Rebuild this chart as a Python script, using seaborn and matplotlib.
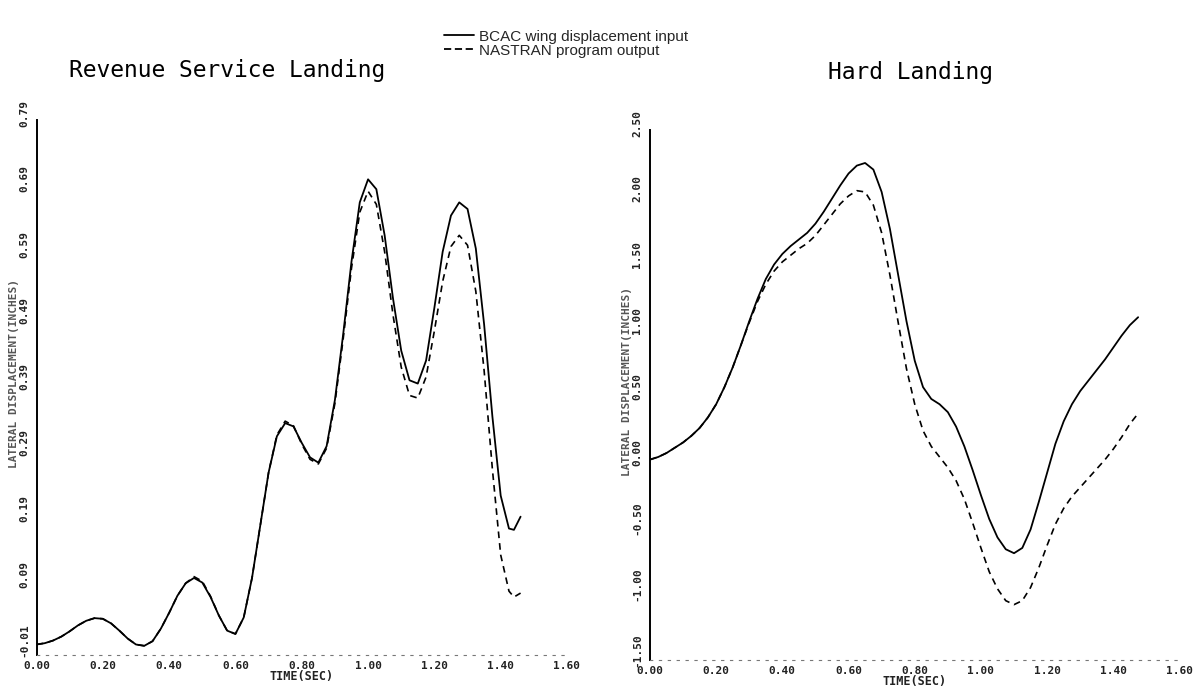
import numpy as np
import pandas as pd
import matplotlib
matplotlib.use("Agg")
import matplotlib.pyplot as plt
from matplotlib.lines import Line2D
import seaborn as sns

# ---- Revenue service landing: lateral wing displacement (inches) ----
rev_time = [0.000, 0.025, 0.050, 0.075, 0.100, 0.125, 0.150, 0.175, 0.200, 0.225,
            0.250, 0.275, 0.300, 0.325, 0.350, 0.375, 0.400, 0.425, 0.450, 0.475,
            0.500, 0.525, 0.550, 0.575, 0.600, 0.625, 0.650, 0.675, 0.700, 0.725,
            0.750, 0.775, 0.800, 0.825, 0.850, 0.875, 0.900, 0.925, 0.950, 0.975,
            1.000, 1.025, 1.050, 1.075, 1.100, 1.125, 1.150, 1.175, 1.200, 1.225,
            1.250, 1.275, 1.300, 1.325, 1.350, 1.375, 1.400, 1.425, 1.440, 1.460]
rev_bcac = [-0.006, -0.004, 0.000, 0.006, 0.014, 0.023, 0.030, 0.034, 0.033, 0.026,
            0.015, 0.003, -0.006, -0.008, -0.001, 0.018, 0.042, 0.068, 0.087, 0.095,
            0.088, 0.066, 0.038, 0.015, 0.010, 0.035, 0.095, 0.175, 0.255, 0.310,
            0.330, 0.325, 0.300, 0.278, 0.270, 0.295, 0.365, 0.465, 0.575, 0.665,
            0.700, 0.685, 0.615, 0.520, 0.440, 0.395, 0.390, 0.425, 0.505, 0.590,
            0.645, 0.665, 0.655, 0.595, 0.480, 0.340, 0.220, 0.170, 0.168, 0.188]
rev_nastran = [-0.006, -0.004, 0.000, 0.006, 0.014, 0.023, 0.030, 0.034, 0.033, 0.026,
               0.015, 0.003, -0.006, -0.008, -0.001, 0.018, 0.042, 0.068, 0.087, 0.097,
               0.090, 0.067, 0.038, 0.015, 0.010, 0.035, 0.095, 0.175, 0.255, 0.312,
               0.333, 0.326, 0.298, 0.275, 0.268, 0.292, 0.360, 0.458, 0.565, 0.650,
               0.682, 0.662, 0.590, 0.495, 0.415, 0.372, 0.368, 0.400, 0.470, 0.545,
               0.598, 0.615, 0.600, 0.530, 0.410, 0.260, 0.130, 0.075, 0.066, 0.072]

# ---- Hard landing ----
hard_time = [0.000, 0.025, 0.050, 0.075, 0.100, 0.125, 0.150, 0.175, 0.200, 0.225,
             0.250, 0.275, 0.300, 0.325, 0.350, 0.375, 0.400, 0.425, 0.450, 0.475,
             0.500, 0.525, 0.550, 0.575, 0.600, 0.625, 0.650, 0.675, 0.700, 0.725,
             0.750, 0.775, 0.800, 0.825, 0.850, 0.875, 0.900, 0.925, 0.950, 0.975,
             1.000, 1.025, 1.050, 1.075, 1.100, 1.125, 1.150, 1.175, 1.200, 1.225,
             1.250, 1.275, 1.300, 1.325, 1.350, 1.375, 1.400, 1.425, 1.450, 1.475]
hard_bcac = [0.00, 0.02, 0.05, 0.09, 0.13, 0.18, 0.24, 0.32, 0.42, 0.55,
             0.70, 0.87, 1.05, 1.22, 1.37, 1.48, 1.56, 1.62, 1.67, 1.72,
             1.79, 1.88, 1.98, 2.08, 2.17, 2.23, 2.25, 2.20, 2.03, 1.75,
             1.40, 1.05, 0.75, 0.55, 0.46, 0.42, 0.36, 0.25, 0.10, -0.08,
             -0.27, -0.45, -0.59, -0.68, -0.71, -0.67, -0.53, -0.32, -0.10, 0.12,
             0.29, 0.42, 0.52, 0.60, 0.68, 0.76, 0.85, 0.94, 1.02, 1.08]
hard_nastran = [0.00, 0.02, 0.05, 0.09, 0.13, 0.18, 0.24, 0.32, 0.42, 0.55,
                0.70, 0.87, 1.04, 1.20, 1.33, 1.43, 1.50, 1.55, 1.60, 1.64,
                1.70, 1.78, 1.86, 1.94, 2.00, 2.04, 2.03, 1.93, 1.72, 1.40,
                1.04, 0.69, 0.42, 0.22, 0.10, 0.02, -0.06, -0.16, -0.30, -0.48,
                -0.67, -0.85, -0.98, -1.07, -1.10, -1.07, -0.97, -0.82, -0.65, -0.49,
                -0.37, -0.28, -0.21, -0.14, -0.07, 0.00, 0.08, 0.17, 0.27, 0.35]

rev_yticks = [-0.01, 0.09, 0.19, 0.29, 0.39, 0.49, 0.59, 0.69, 0.79]
hard_yticks = [-1.50, -1.00, -0.50, 0.00, 0.50, 1.00, 1.50, 2.00, 2.50]
time_ticks = [0.00, 0.20, 0.40, 0.60, 0.80, 1.00, 1.20, 1.40, 1.60]

legend_labels = ["BCAC wing displacement input", "NASTRAN program output"]
panel_titles = ["Revenue Service Landing", "Hard Landing"]
y_label = "LATERAL DISPLACEMENT(INCHES)"
x_label = "TIME(SEC)"

sns.set_theme(style="white")
plt.rcParams["font.family"] = ["DejaVu Sans"]

fig = plt.figure(figsize=(12.01, 6.89), dpi=100)
ax_rev = fig.add_axes([0.0304, 0.0493, 0.4417, 0.7765])
ax_hard = fig.add_axes([0.5412, 0.0421, 0.4409, 0.7692])

mono = {"family": "DejaVu Sans Mono", "weight": "bold"}


def draw_panel(ax, t, bcac, nastran, yticks, ylim, ylabel_x):
    df = pd.DataFrame({"t": t, "bcac": bcac, "nastran": nastran})
    sns.lineplot(data=df, x="t", y="bcac", ax=ax, color="black", lw=1.3,
                 sort=False, estimator=None)
    sns.lineplot(data=df, x="t", y="nastran", ax=ax, color="black", lw=1.2,
                 sort=False, estimator=None, linestyle=(0, (4, 3)))
    ax.set_xlim(0, 1.6)
    ax.set_ylim(*ylim)
    ax.set_xticks(time_ticks)
    ax.set_yticks(yticks)
    ax.set_xticklabels([f"{v:.2f}" for v in time_ticks], fontdict=mono,
                       fontsize=8, color="#222222")
    # vertical value labels sit a little above their tick marks
    ax.set_yticklabels([])
    for v in yticks:
        ax.annotate(f"{v:.2f}", xy=(0, v), xycoords=ax.get_yaxis_transform(),
                    xytext=(-9, 5), textcoords="offset points", rotation=90,
                    ha="center", va="center", fontsize=8, color="#222222",
                    **mono)
    for s in ("top", "right"):
        ax.spines[s].set_visible(False)
    ax.spines["left"].set_color("black")
    ax.spines["left"].set_linewidth(1.4)
    ax.spines["bottom"].set_color("#777777")
    ax.spines["bottom"].set_linewidth(0.8)
    ax.spines["bottom"].set_linestyle((0, (2, 6)))
    ax.tick_params(axis="both", which="major", direction="inout", length=7,
                   width=1.0, color="black", pad=2)
    ax.tick_params(axis="x", length=6, pad=1.5)
    ax.set_xlabel(x_label, fontdict=mono, fontsize=8.5, labelpad=-1,
                  color="#222222")
    ax.set_ylabel("")
    pos = ax.get_position()
    fig.text(ylabel_x, (pos.y0 + pos.y1) / 2 + 0.02, y_label, fontdict=mono,
             fontsize=8, rotation=90, va="center", ha="center", color="#555555")


draw_panel(ax_rev, rev_time, rev_bcac, rev_nastran, rev_yticks,
           (-0.022, 0.79), 14 / 1201)
draw_panel(ax_hard, hard_time, hard_bcac, hard_nastran, hard_yticks,
           (-1.52, 2.50), 627 / 1201)

fig.text(227 / 1201, 1 - 70 / 689, panel_titles[0], family="DejaVu Sans Mono",
         fontsize=16.5, ha="center", va="center", color="black")
fig.text(910 / 1201, 1 - 72 / 689, panel_titles[1], family="DejaVu Sans Mono",
         fontsize=16.5, ha="center", va="center", color="black")

handles = [Line2D([], [], color="black", lw=1.3),
           Line2D([], [], color="black", lw=1.3, linestyle=(0, (4, 2)))]
fig.legend(handles, legend_labels, loc="upper left",
           bbox_to_anchor=(436 / 1201, 1 - 22 / 689), frameon=False,
           handlelength=2.0, handletextpad=0.3, labelspacing=0.0,
           borderpad=0.0, prop={"family": "Liberation Sans", "size": 11})

fig.savefig("out.png", dpi=100)
